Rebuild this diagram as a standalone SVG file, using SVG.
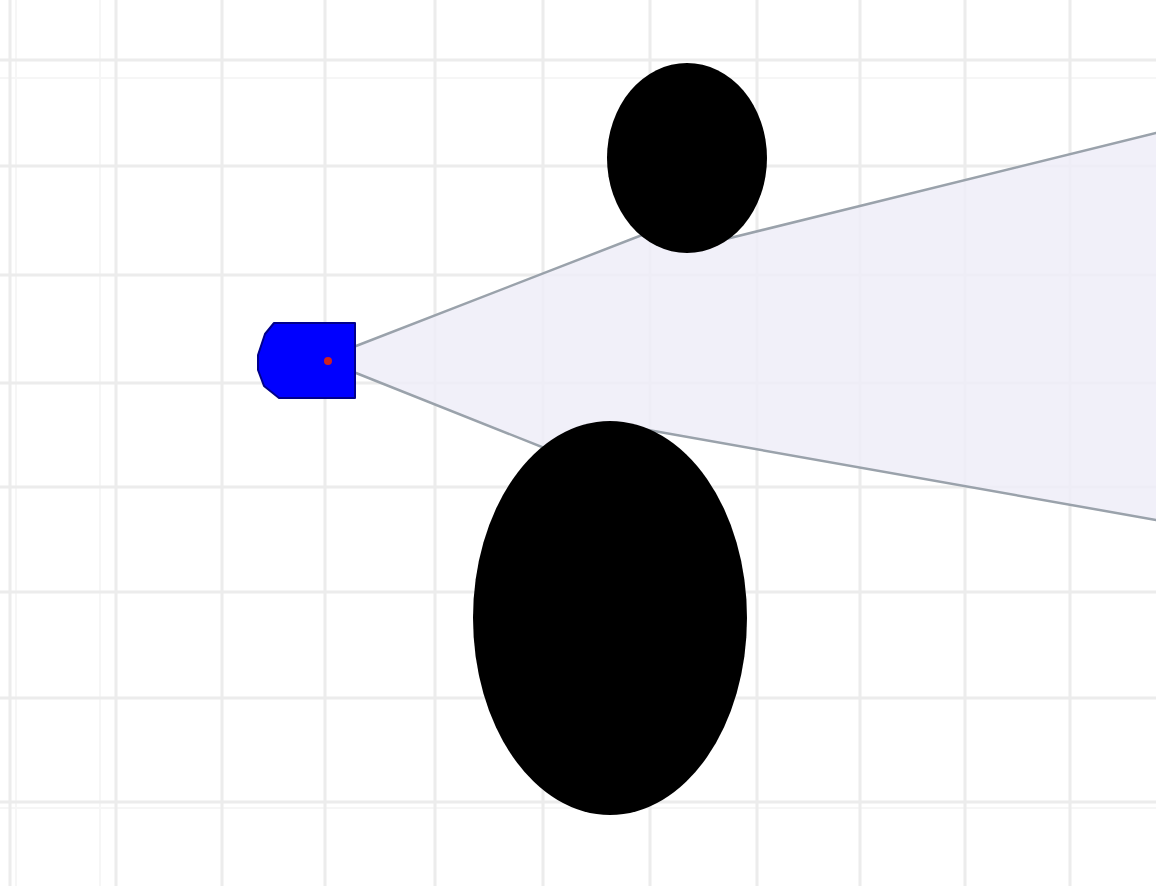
<svg xmlns="http://www.w3.org/2000/svg" width="1156" height="886" viewBox="0 0 1156 886">
<style>
.g{stroke:#ececec;stroke-width:3;fill:none}
.gf{stroke:#f6f6f6;stroke-width:2;fill:none}
.edge{stroke:#9aa2ab;stroke-width:2.5;fill:none;stroke-linecap:round}
.obs{fill:#000000}
</style>
<rect x="0" y="0" width="1156" height="886" fill="#ffffff"/>
<g id="grid">
<path class="gf" d="M0 78H1156M0 808H1156M100 0V886M16 0V886"/>
<path class="g" d="M0 60H1156M0 166H1156M0 275H1156M0 383H1156M0 487H1156M0 592H1156M0 698H1156M0 802H1156"/>
<path class="g" d="M10 0V886M116 0V886M222 0V886M325 0V886M435 0V886M543 0V886M650 0V886M757 0V886M860 0V886M965 0V886M1070 0V886"/>
</g>
<g id="scan">
<polygon points="356,346 655,230 688,236 725,239 1156,133 1156,520 620,425 590,430 560,454 356,373" fill="#eeedf8" fill-opacity="0.85"/>
<path class="edge" d="M356 346L655 230M722 240L1156 133M356 373L562 455M620 425L1156 520"/>
</g>
<g id="obstacle-top"><ellipse class="obs" cx="687" cy="158" rx="80" ry="95"/></g>
<g id="obstacle-bottom"><ellipse class="obs" cx="610" cy="618" rx="137" ry="197"/></g>
<g id="robot">
<polygon points="274,323 355,323 355,398 279,398 264,386 258,370 258,355 265,334" fill="#0000ff" stroke="#00008b" stroke-width="2" stroke-linejoin="round"/>
<circle cx="328" cy="361" r="4" fill="#cc2222"/>
</g>
</svg>
